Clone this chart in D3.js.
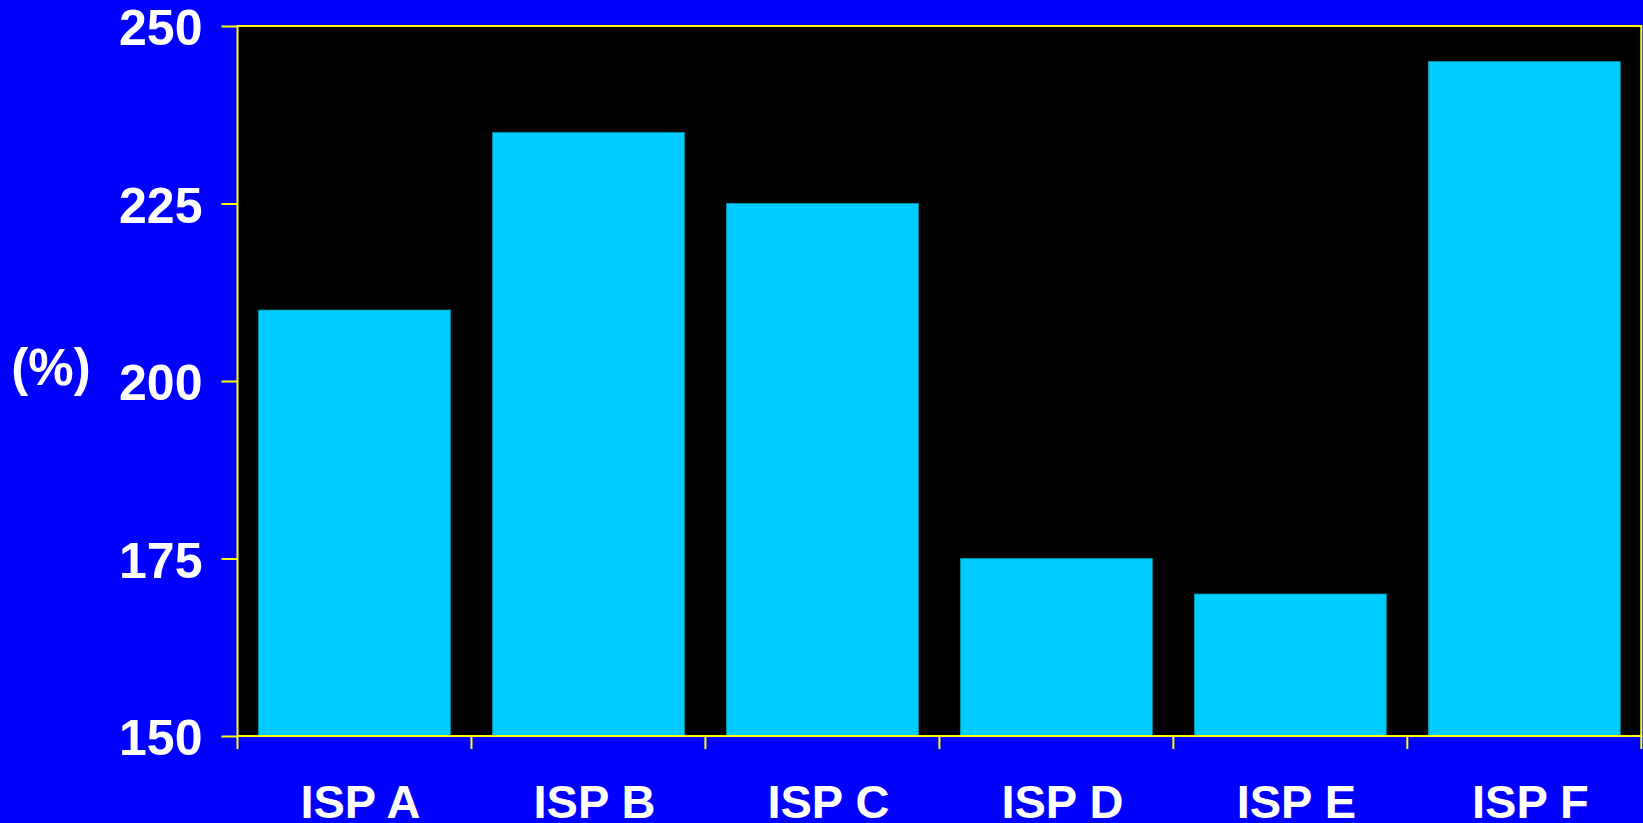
<!DOCTYPE html>
<html>
<head>
<meta charset="utf-8">
<script src="https://cdn.jsdelivr.net/npm/d3@7"></script>
<style>
html,body{margin:0;padding:0;background:#0000FF;overflow:hidden;}
svg{display:block;}
text{font-family:"Liberation Sans",Arial,sans-serif;font-weight:bold;fill:#FFFFFF;}
</style>
</head>
<body>
<script>
const categories = ["ISP A","ISP B","ISP C","ISP D","ISP E","ISP F"];
const values = [210, 235, 225, 175, 170, 245];
const yTicks = [150, 175, 200, 225, 250];
const yLabel = "(%)";

const W = 1643, H = 823;
const m = {left: 237.5, right: 1641.3, top: 26, bottom: 736};

const svg = d3.select("body").append("svg").attr("width", W).attr("height", H);
svg.append("rect").attr("width", W).attr("height", H).attr("fill", "#0000FF");

const x = d3.scaleBand().domain(categories).range([m.left, m.right]).paddingInner(0.18).paddingOuter(0.09);
const y = d3.scaleLinear().domain([150, 250]).range([m.bottom, m.top]);

// plot background
svg.append("rect").attr("x", m.left).attr("y", m.top)
  .attr("width", m.right - m.left).attr("height", m.bottom - m.top).attr("fill", "#000000");

// bars
svg.selectAll("rect.bar").data(categories).enter().append("rect")
  .attr("class", "bar")
  .attr("x", d => x(d))
  .attr("y", (d, i) => y(values[i]))
  .attr("width", x.bandwidth())
  .attr("height", (d, i) => y(150) - y(values[i]))
  .attr("fill", "#00CCFF")
  .attr("stroke", "#0099AA").attr("stroke-width", 0.8);

// frame
svg.append("rect").attr("x", m.left).attr("y", m.top)
  .attr("width", m.right - m.left).attr("height", m.bottom - m.top)
  .attr("fill", "none").attr("stroke", "#FFFF00").attr("stroke-width", 2);

// y axis ticks
const yAxis = d3.axisLeft(y).tickValues(yTicks).tickSize(16).tickPadding(19).tickFormat(d3.format("d"));
const gy = svg.append("g").attr("transform", `translate(${m.left},0)`).call(yAxis);
gy.select(".domain").remove();
gy.selectAll(".tick line").attr("stroke", "#FFFF00").attr("stroke-width", 2);
gy.selectAll(".tick text").attr("font-size", 50).attr("fill", "#FFFFFF")
  .attr("font-family", "'Liberation Sans', Arial, sans-serif").attr("font-weight", "bold")
  .attr("dy", "0.37em");

// x axis ticks at band boundaries
const bounds = categories.map(c => x(c) - x.step() * x.paddingInner() / 2);
bounds.push(m.right);
svg.selectAll("line.xt").data(bounds).enter().append("line")
  .attr("x1", d => d).attr("x2", d => d)
  .attr("y1", m.bottom).attr("y2", m.bottom + 13)
  .attr("stroke", "#FFFF00").attr("stroke-width", 2);

// x labels
svg.selectAll("text.xl").data(categories).enter().append("text")
  .attr("class", "xl")
  .attr("x", d => x(d) + x.bandwidth() / 2 + 6)
  .attr("y", 818)
  .attr("text-anchor", "middle")
  .attr("font-size", 47)
  .text(d => d);

// y label
svg.append("text").attr("x", 51).attr("y", 385).attr("text-anchor", "middle")
  .attr("font-size", 51).text(yLabel);
</script>
</body>
</html>
